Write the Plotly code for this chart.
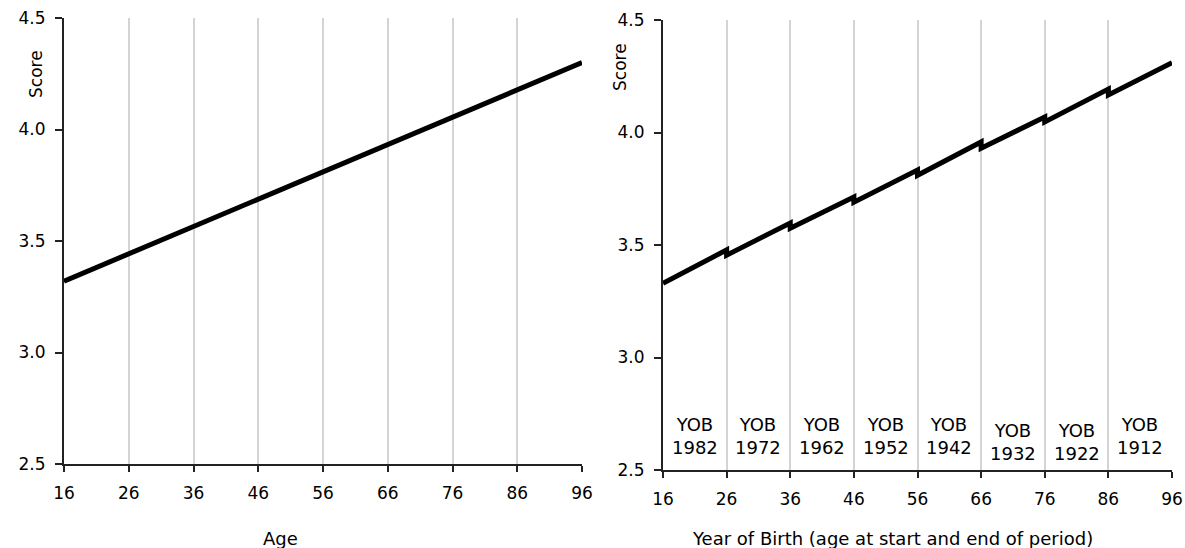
import plotly.graph_objects as go

# ---- data ----
age_ticks = [16, 26, 36, 46, 56, 66, 76, 86, 96]
score_ticks = [2.5, 3.0, 3.5, 4.0, 4.5]

# left panel: straight line
age_x = [16, 96]
age_score = [3.32, 4.30]

# right panel: one segment per birth cohort (start age, end age, start score, end score)
seg_start_age = [16, 26, 36, 46, 56, 66, 76, 86]
seg_end_age = [26, 36, 46, 56, 66, 76, 86, 96]
seg_start_score = [3.33, 3.455, 3.575, 3.69, 3.81, 3.93, 4.047, 4.167]
seg_end_score = [3.478, 3.598, 3.713, 3.833, 3.958, 4.069, 4.193, 4.31]

yob_labels = [1982, 1972, 1962, 1952, 1942, 1932, 1922, 1912]
yob_label_y = [2.65, 2.65, 2.65, 2.65, 2.65, 2.625, 2.625, 2.65]

FONT = "DejaVu Sans, Verdana, sans-serif"

# build sawtooth path
saw_x, saw_y = [], []
for a0, a1, s0, s1 in zip(seg_start_age, seg_end_age, seg_start_score, seg_end_score):
    saw_x += [a0, a1]
    saw_y += [s0, s1]

fig = go.Figure()
fig.add_trace(go.Scatter(x=age_x, y=age_score, mode="lines",
                         line=dict(color="black", width=5), xaxis="x", yaxis="y",
                         showlegend=False, hoverinfo="skip"))
fig.add_trace(go.Scatter(x=saw_x, y=saw_y, mode="lines",
                         line=dict(color="black", width=5), xaxis="x2", yaxis="y2",
                         showlegend=False, hoverinfo="skip"))

W, H = 1185, 548

def xaxis_cfg(domain, anchor):
    return dict(domain=domain, anchor=anchor, range=[16, 96], tickmode="array",
                tickvals=age_ticks, ticktext=[str(t) for t in age_ticks],
                showgrid=True, gridcolor="#d4d4d4", gridwidth=2,
                showline=True, linecolor="#222222", linewidth=2,
                ticks="outside", ticklen=6, tickwidth=2, tickcolor="#222222",
                tickfont=dict(family=FONT, size=17, color="black"),
                ticklabelstandoff=7, zeroline=False, fixedrange=True, automargin=False)

def yaxis_cfg(domain, anchor):
    return dict(domain=domain, anchor=anchor, range=[2.5, 4.5], tickmode="array",
                tickvals=score_ticks, ticktext=[f"{t:.1f}" for t in score_ticks],
                showgrid=False, showline=True, linecolor="#222222", linewidth=2,
                ticks="outside", ticklen=7, tickwidth=2, tickcolor="#222222",
                tickfont=dict(family=FONT, size=17, color="black"),
                ticklabelstandoff=6, zeroline=False, fixedrange=True, automargin=False)

fig.update_layout(
    width=W, height=H,
    margin=dict(l=0, r=0, t=0, b=0, autoexpand=False),
    paper_bgcolor="white", plot_bgcolor="white",
    xaxis=xaxis_cfg([64 / W, 582 / W], "y"),
    yaxis=yaxis_cfg([1 - 464 / H, 1 - 18 / H], "x"),
    xaxis2=xaxis_cfg([663 / W, 1172 / W], "y2"),
    yaxis2=yaxis_cfg([1 - 470 / H, 1 - 20 / H], "x2"),
)

annotations = [
    dict(text="Score", x=36 / W, y=1 - 74 / H, xref="paper", yref="paper",
         xanchor="center", yanchor="middle",
         textangle=-90, showarrow=False, font=dict(family=FONT, size=17, color="black")),
    dict(text="Score", x=620 / W, y=1 - 67 / H, xref="paper", yref="paper",
         xanchor="center", yanchor="middle",
         textangle=-90, showarrow=False, font=dict(family=FONT, size=17, color="black")),
    dict(text="Age", x=280 / W, y=1 - 538 / H, xref="paper", yref="paper",
         xanchor="center", yanchor="middle",
         showarrow=False, font=dict(family=FONT, size=18, color="black")),
    dict(text="Year of Birth (age at start and end of period)", x=893 / W, y=1 - 538 / H,
         xref="paper", yref="paper", xanchor="center", yanchor="middle", showarrow=False,
         font=dict(family=FONT, size=18, color="black")),
]
for a0, a1, lab, ly in zip(seg_start_age, seg_end_age, yob_labels, yob_label_y):
    annotations.append(dict(text=f"YOB<br>{lab}", x=(a0 + a1) / 2, y=ly, xref="x2", yref="y2",
                            xanchor="center", yanchor="middle",
                            showarrow=False, align="center",
                            font=dict(family=FONT, size=18, color="black")))
fig.update_layout(annotations=annotations)

fig.write_html("out.html", config={"displayModeBar": False},
               post_script="document.body.style.margin='0';")
